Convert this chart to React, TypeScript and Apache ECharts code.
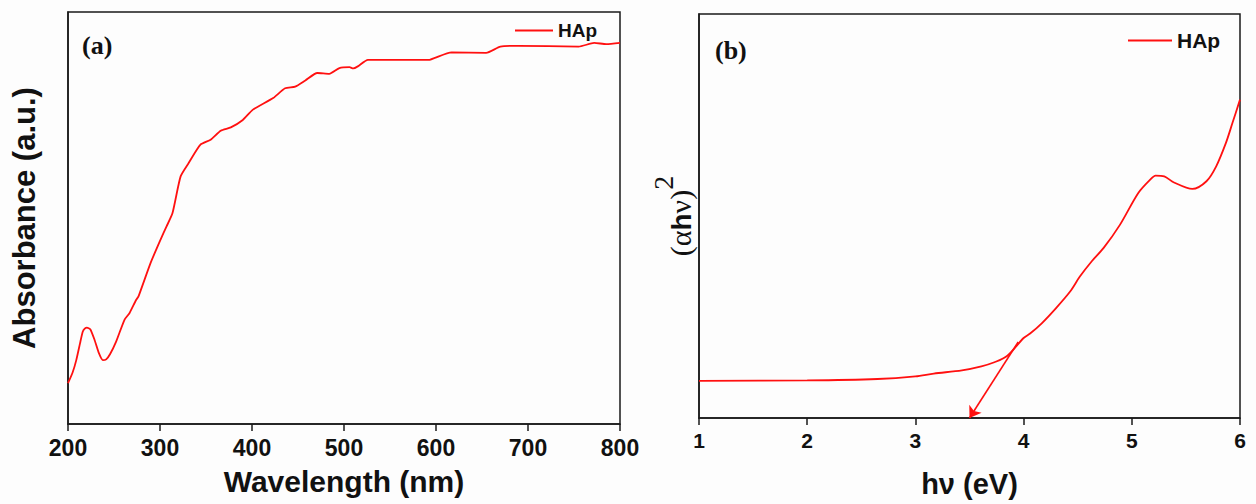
import React, { useEffect, useRef } from "react";
import * as echarts from "echarts";

// Panel (a): UV-Vis absorbance
const wavelength = [200, 205, 209, 213, 216, 218.5, 220.6, 224.2, 228.9, 233.6, 237.9, 241.5, 245.8, 252.3, 261.4, 266.8, 274, 276.5, 289.6, 300.5, 307, 313.6, 322.4, 331, 344, 355, 366, 377, 390, 401, 423, 436, 447, 458, 471, 484, 495, 506, 510, 515, 526, 593, 598, 617, 654.5, 670, 689.5, 755, 772, 785, 800];
const absorbance = [9.9, 12.5, 15.5, 19.5, 22.4, 23.2, 23.4, 23.0, 20.4, 17.2, 15.5, 15.7, 17.0, 20.0, 25.3, 26.9, 30.1, 30.9, 39.0, 44.7, 47.9, 51.2, 60.1, 63.3, 67.8, 69.0, 71.2, 72.0, 73.8, 76.3, 79.1, 81.5, 81.9, 83.4, 85.2, 85.0, 86.4, 86.6, 86.3, 86.8, 88.4, 88.4, 88.8, 90.2, 90.1, 91.6, 91.8, 91.6, 92.5, 92.2, 92.5];
const wlTicks = { min: 200, max: 800, interval: 100 };

// Panel (b): Tauc plot
const photonEnergy = [1.0, 2.0, 2.65, 3.0, 3.17, 3.43, 3.61, 3.73, 3.85, 4.0, 4.06, 4.17, 4.3, 4.43, 4.52, 4.63, 4.74, 4.89, 5.06, 5.17, 5.22, 5.3, 5.39, 5.56, 5.69, 5.78, 5.87, 5.93, 6.0];
const tauc = [9.2, 9.3, 9.65, 10.3, 11.0, 11.8, 12.8, 13.8, 15.4, 19.8, 20.9, 23.5, 27.2, 31.3, 35.0, 38.8, 42.1, 47.8, 55.7, 59.0, 60.0, 59.8, 58.3, 56.7, 58.6, 62.3, 68.1, 73.0, 78.8];
const evTicks = { min: 1, max: 6, interval: 1 };
const tangentStart = [3.95, 18.8];
const bandGap = [3.5, 0];

const seriesName = "HAp";

export default function App() {
  const ref = useRef<HTMLDivElement>(null);
  useEffect(() => {
    if (!ref.current) return;
    const chart = echarts.init(ref.current, null, { renderer: "svg" });
    const sans = "'Liberation Sans', Arial, sans-serif";
    const serif = "'Liberation Serif', 'Times New Roman', serif";
    const border = "#1a1a1a";
    const red = "#ff1010";
    const xAxisCommon = {
      type: "value" as const,
      nameLocation: "middle" as const,
      axisLine: { show: true, lineStyle: { color: border, width: 1.5 } },
      axisTick: { show: true, inside: false, length: 7, lineStyle: { color: border, width: 1.5 } },
      splitLine: { show: false },
    };
    const yAxisCommon = {
      type: "value" as const,
      min: 0,
      max: 100,
      nameLocation: "middle" as const,
      nameRotate: 90,
      axisLine: { show: true, lineStyle: { color: border, width: 1.5 } },
      axisTick: { show: false },
      axisLabel: { show: false },
      splitLine: { show: false },
    };
    chart.setOption({
      animation: false,
      backgroundColor: "#fdfdfd",
      grid: [
        { left: 68, top: 12, width: 552, height: 412, show: true, borderColor: border, borderWidth: 1.5, backgroundColor: "transparent" },
        { left: 699, top: 14, width: 541, height: 404, show: true, borderColor: border, borderWidth: 1.5, backgroundColor: "transparent" },
      ],
      xAxis: [
        {
          ...xAxisCommon,
          gridIndex: 0,
          min: wlTicks.min,
          max: wlTicks.max,
          interval: wlTicks.interval,
          name: "Wavelength (nm)",
          nameGap: 42,
          nameTextStyle: { fontFamily: sans, fontWeight: "bold", fontSize: 30, color: "#111" },
          axisLabel: { margin: 12, fontFamily: sans, fontWeight: "bold", fontSize: 23, color: "#111" },
        },
        {
          ...xAxisCommon,
          gridIndex: 1,
          min: evTicks.min,
          max: evTicks.max,
          interval: evTicks.interval,
          name: "hν (eV)",
          nameGap: 51,
          nameTextStyle: { fontFamily: sans, fontWeight: "bold", fontSize: 29, color: "#111" },
          axisLabel: { margin: 12, fontFamily: sans, fontWeight: "bold", fontSize: 21, color: "#111" },
        },
      ],
      yAxis: [
        {
          ...yAxisCommon,
          gridIndex: 0,
          name: "Absorbance (a.u.)",
          nameGap: 28,
          nameTextStyle: { fontFamily: sans, fontWeight: "bold", fontSize: 31, color: "#111" },
        },
        {
          ...yAxisCommon,
          gridIndex: 1,
          name: "{p|(α}{h|h}{p|ν)}{s|2}",
          nameGap: 4,
          nameTextStyle: {
            color: "#111",
            rich: {
              p: { fontFamily: serif, fontSize: 30, lineHeight: 46, verticalAlign: "bottom", color: "#111" },
              h: { fontFamily: sans, fontWeight: "bold", fontSize: 28, lineHeight: 46, verticalAlign: "bottom", color: "#111" },
              s: { fontFamily: serif, fontSize: 28, lineHeight: 28, verticalAlign: "top", color: "#111" },
            },
          },
        },
      ],
      legend: [
        {
          left: 515,
          top: 21,
          padding: 0,
          data: [seriesName],
          icon: "rect",
          itemWidth: 38,
          itemHeight: 2,
          textStyle: { fontFamily: sans, fontWeight: "bold", fontSize: 19, color: "#111" },
        },
        {
          left: 1128,
          top: 30,
          padding: 0,
          data: [seriesName],
          icon: "rect",
          itemWidth: 44,
          itemHeight: 2,
          textStyle: { fontFamily: sans, fontWeight: "bold", fontSize: 21, color: "#111" },
        },
      ],
      graphic: [
        { type: "text", left: 82, top: 32, style: { text: "(a)", font: `bold 26px ${serif}`, fill: "#111" } },
        { type: "text", left: 715, top: 37, style: { text: "(b)", font: `bold 26px ${serif}`, fill: "#111" } },
      ],
      series: [
        {
          name: seriesName,
          type: "line",
          xAxisIndex: 0,
          yAxisIndex: 0,
          data: wavelength.map((w, i) => [w, absorbance[i]]),
          showSymbol: false,
          smooth: 0.2,
          lineStyle: { color: red, width: 1.8 },
          itemStyle: { color: red },
        },
        {
          name: seriesName,
          type: "line",
          xAxisIndex: 1,
          yAxisIndex: 1,
          data: photonEnergy.map((e, i) => [e, tauc[i]]),
          showSymbol: false,
          smooth: 0.3,
          lineStyle: { color: red, width: 1.8 },
          itemStyle: { color: red },
          markLine: {
            silent: true,
            symbol: ["none", "arrow"],
            symbolSize: 11,
            label: { show: false },
            lineStyle: { color: red, width: 1.6, type: "solid" },
            data: [[{ coord: tangentStart }, { coord: bandGap }]],
          },
        },
      ],
    });
    return () => chart.dispose();
  }, []);
  return <div ref={ref} style={{ position: "absolute", left: 0, top: 0, width: 1256, height: 504 }} />;
}
